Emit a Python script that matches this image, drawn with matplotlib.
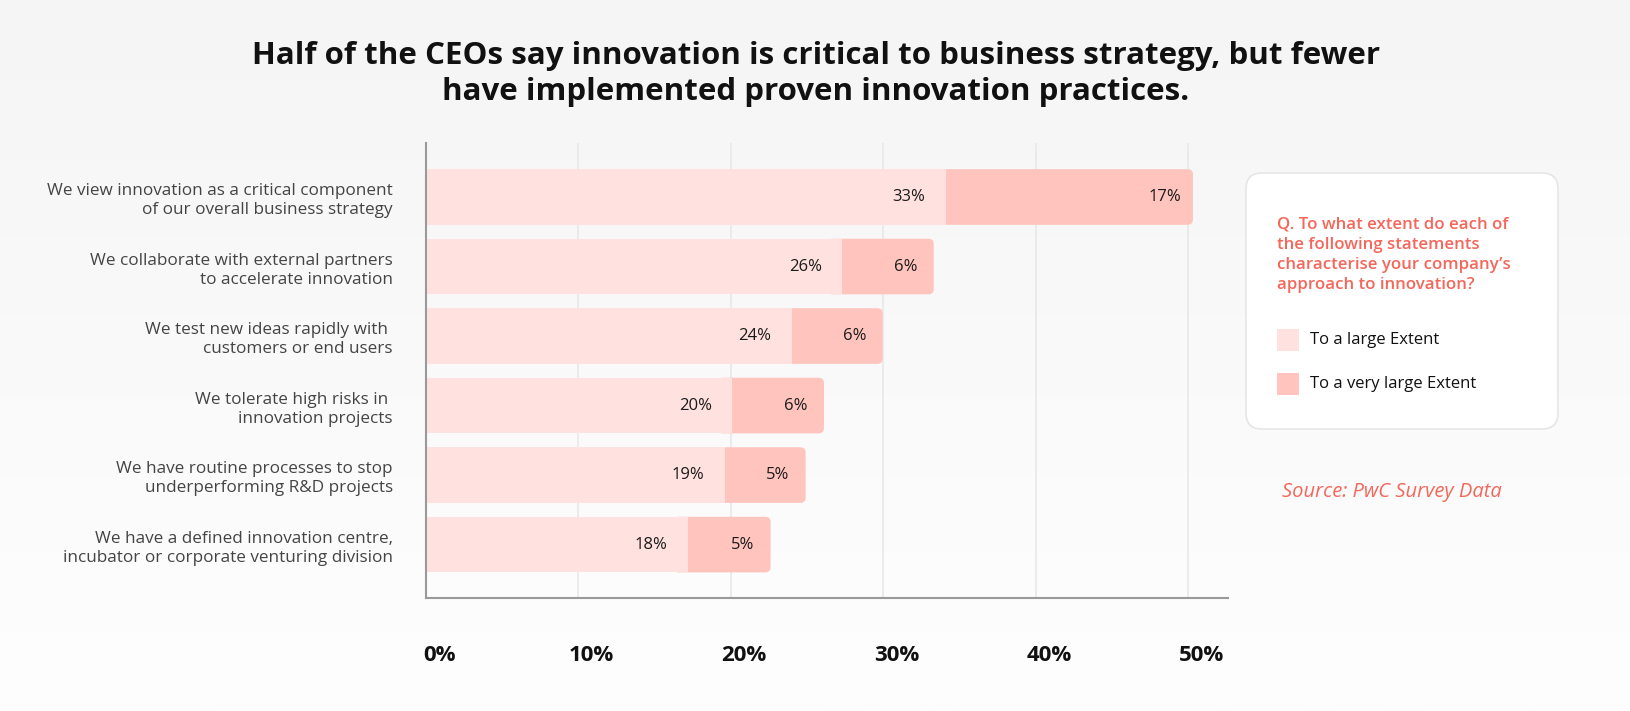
import numpy as np
import matplotlib.pyplot as plt
import matplotlib.transforms as mtransforms
from matplotlib.patches import FancyBboxPatch, Rectangle

# Data
statements = [
    'We view innovation as a critical component\nof our overall business strategy',
    'We collaborate with external partners\nto accelerate innovation',
    'We test new ideas rapidly with \ncustomers or end users',
    'We tolerate high risks in \ninnovation projects',
    'We have routine processes to stop\nunderperforming R&D projects',
    'We have a defined innovation centre,\nincubator or corporate venturing division',
]
# bar lengths as drawn in the picture (%)
large_extent = [34.1, 27.3, 24.0, 20.1, 19.6, 17.2]
very_large_extent = [16.2, 6.0, 5.95, 6.0, 5.3, 5.4]
# printed labels
large_labels = ['33%', '26%', '24%', '20%', '19%', '18%']
very_large_labels = ['17%', '6%', '6%', '6%', '5%', '5%']
xticks = [0, 10, 20, 30, 40, 50]
xtick_labels = ['0%', '10%', '20%', '30%', '40%', '50%']

title = ('Half of the CEOs say innovation is critical to business strategy, but fewer\n'
         'have implemented proven innovation practices.')
question = ("Q. To what extent do each of\nthe following statements\n"
            "characterise your company\u2019s\napproach to innovation?")
legend_names = ['To a large Extent', 'To a very large Extent']
source = 'Source: PwC Survey Data'

c_light = '#ffe2df'
c_dark = '#ffc4be'
c_red = '#f4675a'

W, H = 1630, 711
plt.rcParams['font.family'] = ['Open Sans', 'DejaVu Sans']

fig = plt.figure(figsize=(W / 100, H / 100), dpi=100)

def fx(px):
    return px / W

def fy(py):
    return 1 - py / H

# background gradient
bg = fig.add_axes([0, 0, 1, 1], zorder=-10)
grad = np.linspace(0, 1, 256).reshape(-1, 1)
top = np.array([245, 245, 245]) / 255
bot = np.array([254, 254, 254]) / 255
img = top[None, None, :] * (1 - grad[:, :, None]) + bot[None, None, :] * grad[:, :, None]
bg.imshow(img, aspect='auto', extent=[0, 1, 0, 1])
bg.axis('off')

ax = fig.add_axes([fx(426), fy(597.7), fx(1228) - fx(426), fy(143) - fy(597.7)])
ax.set_facecolor('none')

y = np.arange(len(statements))
bar_h = 0.8
# dark segments with rounded right end; left corners hidden under the light bars
for i in range(len(statements)):
    start = large_extent[i] - 1
    width = very_large_extent[i] + 1
    p = FancyBboxPatch((start, i - bar_h / 2), width, bar_h,
                       boxstyle='round,pad=0,rounding_size=0.35',
                       mutation_aspect=15.25 / 69.5,
                       facecolor=c_dark, edgecolor='none', zorder=2)
    ax.add_patch(p)
ax.barh(y, large_extent, height=bar_h, color=c_light, zorder=2.5)

for i in range(len(statements)):
    ax.annotate(large_labels[i], (large_extent[i], i), xytext=(-37 * 0.72, 0),
                textcoords='offset points', ha='center', va='center',
                fontsize=12, color='#1a1a1a', zorder=3)
    end = large_extent[i] + very_large_extent[i]
    ax.annotate(very_large_labels[i], (end, i), xytext=(-28 * 0.72, 0),
                textcoords='offset points', ha='center', va='center',
                fontsize=12, color='#1a1a1a', zorder=3)

ax.set_xlim(0, 52.6)
ax.set_ylim(5.764, -0.777)
ax.set_yticks(y)
ax.set_yticklabels(statements, fontsize=12.3, color='#444444', linespacing=1.25)
ax.set_xticks(xticks)
ax.set_xticklabels(xtick_labels, fontsize=16, fontweight='bold', color='#111111')
ax.tick_params(axis='y', length=0, pad=24)
ax.tick_params(axis='x', length=0, pad=34)
offset = mtransforms.ScaledTranslation(0.13, 0, fig.dpi_scale_trans)
for lab in ax.get_xticklabels():
    lab.set_transform(lab.get_transform() + offset)

ax.grid(axis='x', color='#e8e8e8', linewidth=1.2, zorder=0)
ax.set_axisbelow(True)
for s in ['top', 'right']:
    ax.spines[s].set_visible(False)
for s in ['left', 'bottom']:
    ax.spines[s].set_color('#9a9a9a')
    ax.spines[s].set_linewidth(1.5)

# title (baseline of the last line)
fig.text(fx(816), fy(100), title, ha='center', va='baseline', fontsize=22.5,
         fontweight='bold', color='#111111', linespacing=1.28)

# legend box
box = FancyBboxPatch((fx(1246), fy(429)), fx(1558) - fx(1246), fy(173) - fy(429),
                     boxstyle='round,pad=0,rounding_size=%f' % (16 / W),
                     mutation_aspect=W / H, transform=fig.transFigure,
                     facecolor='white', edgecolor='#e6e6e6', linewidth=1.2)
fig.patches.append(box)
fig.text(fx(1277), fy(289), question, ha='left', va='baseline', fontsize=12.2,
         fontweight='semibold', color=c_red, linespacing=1.35)

for k, (name, col) in enumerate(zip(legend_names, [c_light, c_dark])):
    top_px = 329 + k * 43.7
    sq = Rectangle((fx(1277), fy(top_px + 22)), fx(22), 22 / H,
                   transform=fig.transFigure, facecolor=col, edgecolor='none')
    fig.patches.append(sq)
    fig.text(fx(1310), fy(top_px + 11), name, ha='left', va='center',
             fontsize=12, color='#111111')

fig.text(fx(1282), fy(497), source, ha='left', va='baseline', fontsize=14.5,
         style='italic', color=c_red)

fig.savefig('out.png', dpi=100)
